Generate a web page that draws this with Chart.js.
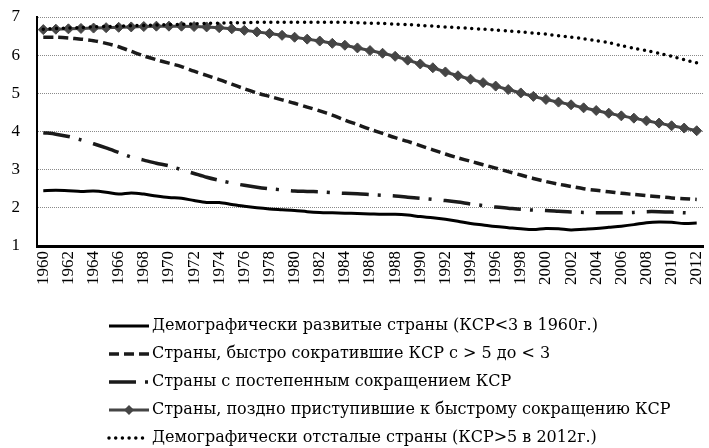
<!DOCTYPE html>
<html>
<head>
<meta charset="utf-8">
<script src="https://cdn.jsdelivr.net/npm/chart.js@4.4.1/dist/chart.umd.min.js"></script>
<style>
  html, body { margin: 0; padding: 0; background: #fff; }
  #wrap { width: 709px; height: 448px; }
</style>
</head>
<body>
<div id="wrap"><canvas id="tfr" width="709" height="448"></canvas></div>
<script>
// years on the x axis
const years = [
  "1960","1961","1962","1963","1964","1965","1966","1967","1968","1969",
  "1970","1971","1972","1973","1974","1975","1976","1977","1978","1979",
  "1980","1981","1982","1983","1984","1985","1986","1987","1988","1989",
  "1990","1991","1992","1993","1994","1995","1996","1997","1998","1999",
  "2000","2001","2002","2003","2004","2005","2006","2007","2008","2009",
  "2010","2011","2012"
];

const seriesNames = [
  "Демографически развитые страны (КСР<3 в 1960г.)",
  "Страны, быстро сократившие КСР с > 5 до < 3",
  "Страны с постепенным сокращением КСР",
  "Страны, поздно приступившие к быстрому сокращению КСР",
  "Демографически отсталые страны (КСР>5 в 2012г.)"
];

const developed = [
  2.45, 2.46, 2.45, 2.43, 2.44, 2.41, 2.36, 2.39, 2.36, 2.31,
  2.27, 2.25, 2.19, 2.14, 2.14, 2.09, 2.04, 2.00, 1.97, 1.95,
  1.93, 1.90, 1.88, 1.87, 1.86, 1.85, 1.84, 1.83, 1.83, 1.81,
  1.77, 1.74, 1.70, 1.65, 1.59, 1.55, 1.51, 1.48, 1.45, 1.43,
  1.46, 1.45, 1.42, 1.44, 1.46, 1.49, 1.52, 1.56, 1.61, 1.63,
  1.62, 1.59, 1.60
];

const fastDecline = [
  6.47, 6.47, 6.45, 6.42, 6.38, 6.31, 6.22, 6.10, 5.98, 5.88,
  5.79, 5.70, 5.58, 5.47, 5.36, 5.24, 5.12, 5.01, 4.92, 4.83,
  4.74, 4.64, 4.54, 4.43, 4.30, 4.18, 4.06, 3.95, 3.84, 3.74,
  3.63, 3.52, 3.41, 3.31, 3.22, 3.13, 3.04, 2.95, 2.86, 2.77,
  2.69, 2.62, 2.56, 2.50, 2.46, 2.42, 2.38, 2.35, 2.32, 2.29,
  2.26, 2.24, 2.22
];

const gradual = [
  3.97, 3.93, 3.87, 3.78, 3.68, 3.57, 3.45, 3.33, 3.25, 3.17,
  3.10, 3.00, 2.90, 2.80, 2.72, 2.65, 2.59, 2.54, 2.50, 2.47,
  2.44, 2.43, 2.42, 2.40, 2.38, 2.37, 2.35, 2.33, 2.31, 2.28,
  2.25, 2.22, 2.19, 2.15, 2.10, 2.06, 2.02, 1.99, 1.96, 1.94,
  1.93, 1.91, 1.89, 1.88, 1.87, 1.87, 1.87, 1.88, 1.90, 1.90,
  1.89, 1.87, 1.86
];

const lateDecline = [
  6.67, 6.68, 6.69, 6.70, 6.71, 6.72, 6.73, 6.74, 6.75, 6.76,
  6.76, 6.76, 6.75, 6.74, 6.72, 6.69, 6.65, 6.61, 6.57, 6.52,
  6.47, 6.42, 6.37, 6.31, 6.26, 6.19, 6.12, 6.05, 5.97, 5.87,
  5.77, 5.67, 5.56, 5.46, 5.37, 5.28, 5.19, 5.10, 5.01, 4.92,
  4.84, 4.77, 4.70, 4.62, 4.55, 4.48, 4.41, 4.35, 4.28, 4.22,
  4.15, 4.09, 4.02
];

const lagging = [
  6.68, 6.70, 6.71, 6.72, 6.74, 6.75, 6.76, 6.77, 6.78, 6.79,
  6.80, 6.81, 6.82, 6.83, 6.84, 6.85, 6.85, 6.86, 6.86, 6.86,
  6.86, 6.86, 6.86, 6.86, 6.86, 6.85, 6.84, 6.83, 6.81, 6.80,
  6.78, 6.76, 6.74, 6.72, 6.70, 6.68, 6.66, 6.63, 6.61, 6.58,
  6.55, 6.51, 6.47, 6.43, 6.38, 6.33, 6.25, 6.18, 6.12, 6.05,
  5.97, 5.88, 5.80
];

const lineDash = [[], [10, 5], [27, 9, 3, 12], [], [0, 6.7]];

// legend sits under the plot, one entry per row, line samples drawn by hand
const legendLines = {
  id: "legendLines",
  afterLayout(chart) {
    const lg = chart.legend;
    lg.left = 97; lg.right = 760; lg.top = 306; lg.bottom = 520;
    lg.width = lg.right - lg.left; lg.height = lg.bottom - lg.top;
  },
  afterDraw(chart) {
    const ctx = chart.ctx;
    chart.legend.legendHitBoxes.forEach((hb, i) => {
      const ds = chart.data.datasets[i];
      const y = hb.top + hb.height / 2;
      ctx.save();
      ctx.strokeStyle = ds.borderColor;
      ctx.lineWidth = ds.borderWidth;
      ctx.lineCap = ds.borderCapStyle || "butt";
      ctx.setLineDash(ds.borderDash || []);
      ctx.beginPath();
      ctx.moveTo(hb.left, y);
      ctx.lineTo(hb.left + 40, y);
      ctx.stroke();
      if (ds.pointRadius) {
        const r = ds.pointRadius, cx = hb.left + 20;
        ctx.setLineDash([]);
        ctx.fillStyle = ds.pointBackgroundColor;
        ctx.beginPath();
        ctx.moveTo(cx, y - r); ctx.lineTo(cx + r, y);
        ctx.lineTo(cx, y + r); ctx.lineTo(cx - r, y);
        ctx.closePath();
        ctx.fill();
      }
      ctx.restore();
    });
  }
};

const ctx = document.getElementById("tfr").getContext("2d");
new Chart(ctx, {
  type: "line",
  data: {
    labels: years,
    datasets: [
      { label: seriesNames[0], data: developed, borderColor: "#000", borderWidth: 3,
        borderDash: lineDash[0], pointRadius: 0, tension: 0.3, order: 2 },
      { label: seriesNames[1], data: fastDecline, borderColor: "#1a1a1a", borderWidth: 3.5,
        borderDash: lineDash[1], pointRadius: 0, tension: 0.3, order: 3 },
      { label: seriesNames[2], data: gradual, borderColor: "#1a1a1a", borderWidth: 3.5,
        borderDash: lineDash[2], pointRadius: 0, tension: 0.3, order: 4 },
      { label: seriesNames[3], data: lateDecline, borderColor: "#454545", borderWidth: 3,
        borderDash: lineDash[3], pointStyle: "rectRot", pointRadius: 5,
        pointBackgroundColor: "#454545", pointBorderColor: "#454545", pointBorderWidth: 1,
        tension: 0, order: 1 },
      { label: seriesNames[4], data: lagging, borderColor: "#000", borderWidth: 3.5,
        borderDash: lineDash[4], borderCapStyle: "round", pointRadius: 0, tension: 0.3, order: 0 }
    ]
  },
  options: {
    responsive: false,
    animation: false,
    layout: { padding: { left: 0, right: 4, top: 17, bottom: 0 } },
    plugins: {
      tooltip: { enabled: false },
      legend: {
        position: "chartArea",
        align: "start",
        labels: {
          boxWidth: 35,
          boxHeight: 16,
          padding: 12,
          color: "#000",
          font: { family: "'DejaVu Serif', serif", size: 16 },
          sort: (a, b) => a.datasetIndex - b.datasetIndex,
          generateLabels: (chart) => chart.data.datasets.map((ds, i) => ({
            text: ds.label,
            fillStyle: "rgba(0,0,0,0)",
            strokeStyle: "rgba(0,0,0,0)",
            lineWidth: 0,
            hidden: false,
            fontColor: "#000",
            datasetIndex: i
          }))
        }
      }
    },
    scales: {
      x: {
        offset: true,
        grid: { display: false, drawTicks: false },
        border: { display: true, color: "#000", width: 3 },
        afterFit: (scale) => { scale.height = 202; scale.paddingLeft = 0; scale.paddingRight = 0; },
        ticks: {
          autoSkip: false,
          minRotation: 90,
          maxRotation: 90,
          padding: 5,
          color: "#000",
          font: { family: "'Liberation Serif', serif", size: 17 },
          callback: function (v, i) { return i % 2 === 0 ? this.getLabelForValue(v) : ""; }
        }
      },
      y: {
        min: 1,
        max: 7,
        grid: { color: "#8a8a8a", lineWidth: 1, drawTicks: false },
        border: { display: true, color: "#000", width: 2, dash: [1, 1] },
        afterFit: (scale) => { scale.width = 37; scale.paddingTop = 0; scale.paddingBottom = 0; },
        ticks: {
          stepSize: 1,
          padding: 17,
          color: "#000",
          font: { family: "'Liberation Serif', serif", size: 17 }
        }
      }
    }
  },
  plugins: [legendLines]
});
</script>
</body>
</html>
